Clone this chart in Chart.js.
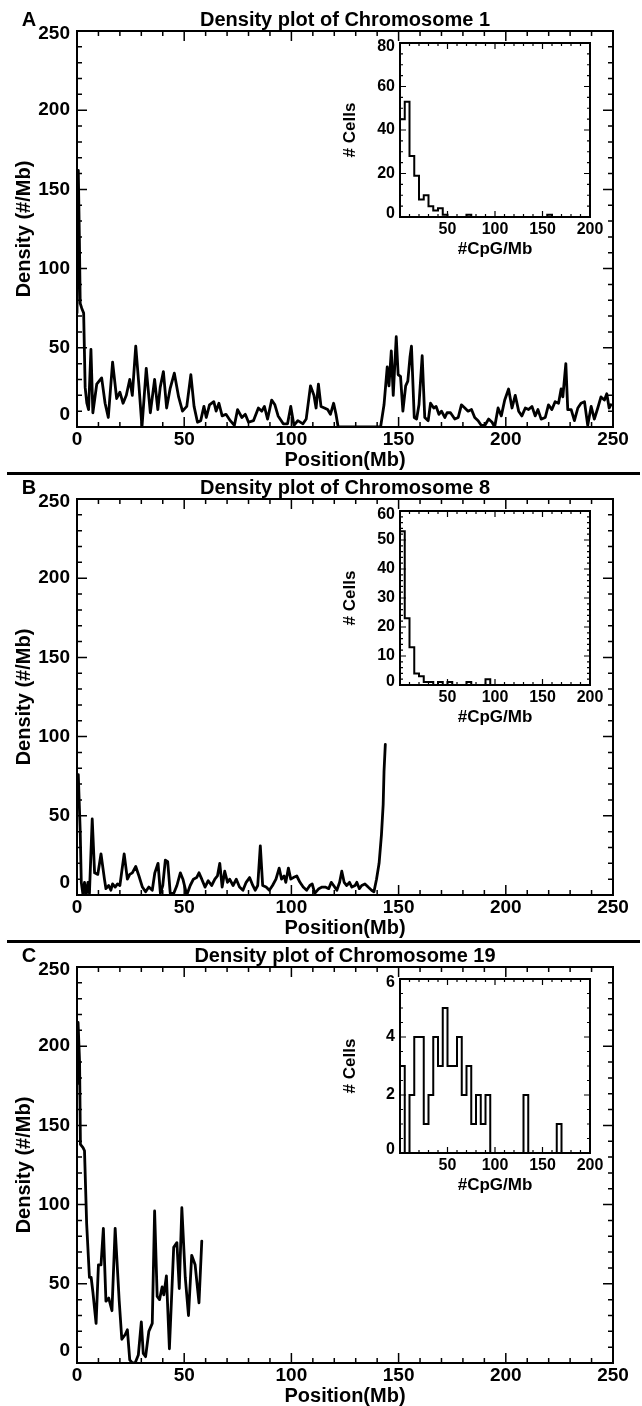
<!DOCTYPE html>
<html>
<head>
<meta charset="utf-8">
<script src="https://cdn.jsdelivr.net/npm/chart.js@4.4.1/dist/chart.umd.min.js"></script>
<style>
html,body{margin:0;padding:0;background:#fff;}
#page{position:relative;width:642px;height:1406px;overflow:hidden;background:#fff;
  font-family:"Liberation Sans",Arial,Helvetica,sans-serif;font-weight:bold;color:#000;}
#page canvas{position:absolute;}
.lbl{position:absolute;line-height:1;white-space:nowrap;transform:translate(-50%,-50%);font-size:20px;}
.sep{position:absolute;left:7px;width:633px;height:3px;background:#000;}
</style>
</head>
<body>
<div id="page"></div>
<script>
// ---------------- data ----------------
const panelLetters = ['A', 'B', 'C'];
const panelTitles = ['Density plot of Chromosome 1', 'Density plot of Chromosome 8', 'Density plot of Chromosome 19'];

const positionTicks = [0, 50, 100, 150, 200, 250];
const densityTicks = [0, 50, 100, 150, 200, 250];
const cpgTicks = [0, 50, 100, 150, 200];
const cellTicks1 = [0, 20, 40, 60, 80];
const cellTicks8 = [0, 10, 20, 30, 40, 50, 60];
const cellTicks19 = [0, 2, 4, 6];

const chr1Pos = [0,0.6,1.1,1.5,2.2,3.1,3.8,4.6,5.4,6.5,7.4,9.2,11.5,13.1,14.6,16.6,18.5,20,21.5,23,24.6,25.8,27.4,28.9,30.3,32.3,34.2,36.2,37.7,38.8,40.3,41.8,43.4,45.4,47.4,49.2,51.2,53.1,54.6,56.2,57.7,59.2,60.3,61.8,63.8,64.9,66.2,67.7,69.5,71.5,73.4,74.9,76.9,78.5,80,82.3,84.6,86.2,87.4,88.9,90.8,92.3,93.8,96.2,98.2,99.7,101.2,103,105.4,106.9,108.9,110.5,111.5,112.6,113.8,115.4,116.9,118.2,119.7,120.8,121.8,141.6,143.2,144.7,145.5,146.6,147.5,148.9,149.8,150.9,152,153.3,154.3,155.3,156,157.3,158.4,159.5,161,162.2,163.8,164.9,166.4,167.5,168.8,170,171.6,172.6,174.2,176.2,177.8,179.3,180.9,182.4,184,185.5,187.1,188.6,190.2,192,193.6,194.8,196.4,197.9,199.5,201.3,202.9,204.4,206,207.5,209.1,210.6,212.2,213.7,215,216.5,218.4,219.9,221.5,223,224.6,225.8,226.6,228,228.9,230.5,232,233.6,235.1,236.7,238.2,239.8,241.3,242.9,244.4,246,247.1,248.2,249];
const chr1Density = [72,162,120,78,75,72,25,15,11,49,9,27,31,15,6,41,18,22,15,20,30,20,51,26,0,37,9,30,11,25,35,12,24,34,19,10,13,33,13,3,4,13,6,14,16,10,15,7,8,4,1,11,6,8,3,4,12,10,13,5,17,14,7,2,2,13,1,4,2,5,26,20,12,27,13,12,11,8,15,8,0,0,14,38,26,48,20,57,33,32,10,26,29,44,51,6,5,14,45,6,4,15,12,13,8,10,6,9,9,5,6,14,12,10,11,6,4,1,1,5,3,0,12,7,17,24,12,20,10,7,12,11,13,7,11,5,6,14,11,16,15,24,19,40,11,11,4,12,15,16,1,13,5,12,19,17,21,12,14];

const chr8Pos = [0,0.6,1.5,2,2.8,3.5,4.3,5.1,5.8,7.1,8.2,9.7,11.2,12.8,13.5,14.8,15.8,16.6,17.8,18.9,20,22,23.5,24.6,25.8,27.4,28.9,30.5,32,33.5,35.1,36.3,37.8,38.9,40,41.2,42.3,43.5,45.1,46.6,48.2,49.4,51.2,52.8,54.3,55.8,56.9,58.2,59.7,61.2,62.8,64.3,65.5,66.6,67.7,68.9,70.2,71.2,72.8,74.3,75.8,77.4,78.9,80.5,82,83.1,84.3,85.5,86.6,88.2,89.7,91.2,92.8,94.3,95.4,96.6,97.4,98.6,99.7,100.9,102.5,104,105.5,107.1,108.6,109.7,110.9,112.8,114.3,115.8,117.4,118.6,119.7,121.2,122.5,123.5,124.6,125.8,127.1,128.2,129.7,130.5,131.7,132.8,134.3,135.8,137.4,138.5,139.7,140.9,142,142.8,143.2,143.8];
const chr8Density = [57,76,40,8,0,8,0,8,1,48,14,13,26,10,4,6,3,7,5,7,6,26,10,13,14,18,12,5,2,5,3,14,20,1,6,22,21,1,1,6,14,10,0,6,10,11,14,10,5,9,6,10,12,20,5,15,8,10,6,10,5,3,8,11,6,3,6,31,6,5,3,6,10,17,10,12,8,17,10,11,12,8,5,3,6,7,1,4,5,5,4,8,6,3,8,15,8,6,8,5,6,8,4,6,7,5,3,2,10,20,38,57,78,95];

const chr19Pos = [0,0.5,1.2,1.6,2.8,3.5,4.5,5.8,6.6,7.4,8.9,10,11.2,12.3,13.5,14.8,16.3,17.8,19.7,20.9,22.5,23.5,24.6,25.8,27.1,28.6,30,30.9,32,33.5,35.1,36.2,37.4,38.5,39.7,40.5,41.7,43.1,45.1,46.6,47.7,48.9,50.5,52,53.5,55.1,56.9,58.2];
const chr19Density = [176,215,190,138,136,134,88,54,54,45,25,62,62,85,39,41,33,85,39,15,18,21,2,0,0,5,26,6,4,20,25,96,42,40,48,43,55,9,73,76,47,98,54,30,68,62,38,77];

// histogram bins (#CpG/Mb, left bin edges) and counts (# Cells)
const cpgBins = [0,5,10,15,20,25,30,35,40,45,50,55,60,65,70,75,80,85,90,95,100,105,110,115,120,125,130,135,140,145,150,155,160,165,170,175,180,185,190,195,200];
const chr1Cells = [70,45,53,28,19,8,10,5,3,4,1,0,0,0,0,1,0,0,0,0,0,0,0,0,0,0,0,0,0,0,0,0,1,0,0,0,0,0,0,0,0];
const chr8Cells = [44,53,23,13,4,3,1,1,0,1,0,1,0,0,0,1,0,0,0,2,0,0,0,0,0,0,0,0,0,0,0,0,0,0,0,0,0,0,0,0,0];
const chr19Cells = [6,3,0,2,4,4,1,2,4,3,5,3,3,4,2,3,1,2,1,2,0,0,0,0,0,0,0,2,0,0,0,0,0,0,1,0,0,0,0,0,0];

// ---------------- drawing ----------------
const FONT = "'Liberation Sans', Arial, Helvetica, sans-serif";
const PANEL_H = 468;

const boxTicks = {
  id: 'boxTicks',
  afterDatasetsDraw(chart, args, o) {
    const {ctx, chartArea: a} = chart;
    const xs = chart.scales.x, ys = chart.scales.y;
    ctx.save();
    ctx.strokeStyle = '#000';
    ctx.lineCap = 'butt';
    ctx.lineWidth = o.tickWidth;
    ctx.beginPath();
    const nx = Math.round((xs.max - xs.min) / o.xMinor);
    for (let k = 0; k <= nx; k++) {
      const v = xs.min + k * o.xMinor;
      const px = xs.getPixelForValue(v);
      const r = v / o.xMajor;
      const len = Math.abs(r - Math.round(r)) < 1e-6 ? o.majorLen : o.minorLen;
      ctx.moveTo(px, a.bottom); ctx.lineTo(px, a.bottom - len);
      ctx.moveTo(px, a.top); ctx.lineTo(px, a.top + len);
    }
    const ny = Math.round((ys.max - ys.min) / o.yMinor);
    for (let k = 0; k <= ny; k++) {
      const v = ys.min + k * o.yMinor;
      const py = ys.getPixelForValue(v);
      const r = v / o.yMajor;
      const len = Math.abs(r - Math.round(r)) < 1e-6 ? o.majorLen : o.minorLen;
      ctx.moveTo(a.left, py); ctx.lineTo(a.left + len, py);
      ctx.moveTo(a.right, py); ctx.lineTo(a.right - len, py);
    }
    ctx.stroke();
    ctx.lineWidth = o.boxWidth;
    ctx.strokeRect(a.left, a.top, a.right - a.left, a.bottom - a.top);
    ctx.restore();
  }
};

// edge tick labels sit inside the axis span (bottom label raised, top label lowered)
function edgeFont(size, min, max, lhBottom, lhTop) {
  return (c) => {
    let lh = 1.2;
    if (c && c.tick) {
      if (c.tick.value === min) lh = lhBottom;
      else if (c.tick.value === max) lh = lhTop;
    }
    return {family: FONT, size: size, weight: 'bold', lineHeight: lh};
  };
}
function edgeLabel(min, max) {
  return (v) => v === min ? [String(v), ''] : (v === max ? ['', String(v)] : String(v));
}

const page = document.getElementById('page');
function addCanvas(left, top, w, h) {
  const c = document.createElement('canvas');
  c.width = w; c.height = h;
  c.style.left = left + 'px'; c.style.top = top + 'px';
  c.style.width = w + 'px'; c.style.height = h + 'px';
  page.appendChild(c);
  return c;
}
function addLabel(text, cx, cy) {
  const d = document.createElement('div');
  d.className = 'lbl';
  d.textContent = text;
  d.style.left = cx + 'px'; d.style.top = cy + 'px';
  page.appendChild(d);
}

function mainChart(top, pos, dens) {
  const canvas = addCanvas(0, top, 642, 470);
  return new Chart(canvas, {
    type: 'line',
    data: {datasets: [{
      data: pos.map((x, i) => ({x: x, y: dens[i]})),
      borderColor: '#000', borderWidth: 2.8, pointRadius: 0, tension: 0, fill: false,
      borderJoinStyle: 'round', borderCapStyle: 'round'
    }]},
    options: {
      responsive: false, animation: false, devicePixelRatio: 1, events: [],
      layout: {padding: {top: 31, right: 29, bottom: 0, left: 0}},
      plugins: {
        legend: {display: false}, tooltip: {enabled: false},
        boxTicks: {xMajor: 50, xMinor: 10, yMajor: 50, yMinor: 10, majorLen: 10, minorLen: 5, tickWidth: 1.5, boxWidth: 2}
      },
      scales: {
        x: {
          type: 'linear', min: 0, max: 250, position: 'bottom',
          afterBuildTicks: s => { s.ticks = positionTicks.map(v => ({value: v})); },
          afterFit: s => { s.height = 43; },
          grid: {display: false, drawTicks: false}, border: {display: false},
          ticks: {autoSkip: false, maxRotation: 0, padding: 1, color: '#000',
                  font: {family: FONT, size: 19, weight: 'bold'}},
          title: {display: true, text: 'Position(Mb)', color: '#000',
                  font: {family: FONT, size: 20, weight: 'bold', lineHeight: 1}, padding: {top: 0, bottom: 0}}
        },
        y: {
          type: 'linear', min: 0, max: 250, position: 'left',
          afterBuildTicks: s => { s.ticks = densityTicks.map(v => ({value: v})); },
          afterFit: s => { s.width = 77; },
          grid: {display: false, drawTicks: false}, border: {display: false},
          ticks: {autoSkip: false, padding: 7, color: '#000',
                  font: edgeFont(19, 0, 250, 1.26, 0.26), callback: edgeLabel(0, 250)},
          title: {display: true, text: 'Density (#/Mb)', color: '#000',
                  font: {family: FONT, size: 20, weight: 'bold', lineHeight: 1}, padding: {top: 14, bottom: 0}}
        }
      }
    },
    plugins: [boxTicks]
  });
}

function insetChart(top, counts, yTicks, yMinor) {
  const canvas = addCanvas(320, top, 300, 227);
  const yMax = yTicks[yTicks.length - 1];
  return new Chart(canvas, {
    type: 'line',
    data: {datasets: [{
      data: cpgBins.map((x, i) => ({x: x, y: counts[i]})),
      stepped: 'after',
      borderColor: '#000', borderWidth: 2, pointRadius: 0, fill: false
    }]},
    options: {
      responsive: false, animation: false, devicePixelRatio: 1, events: [],
      layout: {padding: {top: 12, right: 30, bottom: 0, left: 0}},
      plugins: {
        legend: {display: false}, tooltip: {enabled: false},
        boxTicks: {xMajor: 50, xMinor: 10, yMajor: yTicks[1], yMinor: yMinor, majorLen: 6, minorLen: 3, tickWidth: 1.2, boxWidth: 2}
      },
      scales: {
        x: {
          type: 'linear', min: 0, max: 200, position: 'bottom',
          afterBuildTicks: s => { s.ticks = cpgTicks.map(v => ({value: v})); },
          afterFit: s => { s.height = 41; },
          grid: {display: false, drawTicks: false}, border: {display: false},
          ticks: {autoSkip: false, maxRotation: 0, padding: 3, color: '#000',
                  font: {family: FONT, size: 16, weight: 'bold'},
                  callback: v => v === 0 ? '' : String(v)},
          title: {display: true, text: '#CpG/Mb', color: '#000',
                  font: {family: FONT, size: 17, weight: 'bold', lineHeight: 1}, padding: {top: 0, bottom: 0}}
        },
        y: {
          type: 'linear', min: 0, max: yMax, position: 'left',
          afterBuildTicks: s => { s.ticks = yTicks.map(v => ({value: v})); },
          afterFit: s => { s.width = 80; },
          grid: {display: false, drawTicks: false}, border: {display: false},
          ticks: {autoSkip: false, padding: 5, color: '#000',
                  font: edgeFont(16, 0, yMax, 0.4, 0.4), callback: edgeLabel(0, yMax)},
          title: {display: true, text: '# Cells', color: '#000',
                  font: {family: FONT, size: 17, weight: 'bold', lineHeight: 1}, padding: {top: 22, bottom: 0}}
        }
      }
    },
    plugins: [boxTicks]
  });
}

const mains = [[chr1Pos, chr1Density], [chr8Pos, chr8Density], [chr19Pos, chr19Density]];
const insets = [[chr1Cells, cellTicks1, 5], [chr8Cells, cellTicks8, 2], [chr19Cells, cellTicks19, 0.5]];

for (let i = 0; i < 3; i++) {
  const off = i * PANEL_H;
  mainChart(off, mains[i][0], mains[i][1]);
}
for (let i = 0; i < 3; i++) {
  const off = i * PANEL_H;
  insetChart(off + 31, insets[i][0], insets[i][1], insets[i][2]);
  addLabel(panelLetters[i], 29, off + 18.5);
  addLabel(panelTitles[i], 345, off + 18.5);
  if (i < 2) {
    const s = document.createElement('div');
    s.className = 'sep';
    s.style.top = (off + 471.5) + 'px';
    page.appendChild(s);
  }
}
</script>
</body>
</html>
